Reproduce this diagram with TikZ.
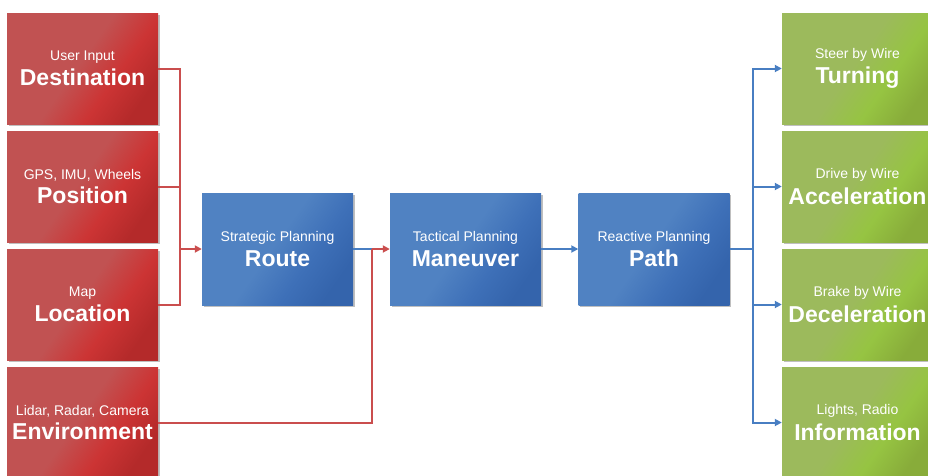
\documentclass[tikz,border=0pt]{standalone}
\usepackage{fontspec}
\setmainfont{Liberation Sans}
\usetikzlibrary{arrows.meta,shadows}
\definecolor{redA}{RGB}{193,82,82}
\definecolor{redB}{RGB}{204,52,52}
\definecolor{redC}{RGB}{180,42,42}
\definecolor{blueA}{RGB}{80,130,194}
\definecolor{blueB}{RGB}{62,112,184}
\definecolor{blueC}{RGB}{52,100,172}
\definecolor{greenA}{RGB}{156,186,92}
\definecolor{greenB}{RGB}{150,196,66}
\definecolor{greenC}{RGB}{136,172,58}
\definecolor{redln}{RGB}{202,78,78}
\definecolor{blueln}{RGB}{72,126,194}
\pgfdeclarehorizontalshading{redsh}{100bp}{color(0bp)=(redA); color(25bp)=(redA); color(48bp)=(redA); color(62bp)=(redB); color(75bp)=(redC); color(100bp)=(redC)}
\pgfdeclarehorizontalshading{bluesh}{100bp}{color(0bp)=(blueA); color(25bp)=(blueA); color(48bp)=(blueA); color(62bp)=(blueB); color(75bp)=(blueC); color(100bp)=(blueC)}
\pgfdeclarehorizontalshading{greensh}{100bp}{color(0bp)=(greenA); color(25bp)=(greenA); color(48bp)=(greenA); color(62bp)=(greenB); color(75bp)=(greenC); color(100bp)=(greenC)}
\newcommand{\sm}{\fontsize{14}{16}\selectfont}
\newcommand{\bg}{\fontsize{23}{26.5}\selectfont\bfseries}
\tikzset{
  boxbase/.style={rectangle, minimum width=151pt, minimum height=111pt, inner sep=0pt,
    text=white, align=center,
    drop shadow={shadow xshift=1.5pt, shadow yshift=-2pt, fill=black, opacity=0.25}},
  redbox/.style={boxbase, shading=redsh, shading angle=-35},
  bluebox/.style={boxbase, minimum height=112pt, shading=bluesh, shading angle=-35},
  greenbox/.style={boxbase, shading=greensh, shading angle=-35},
  redline/.style={draw=redln, line width=2pt},
  blueline/.style={draw=blueln, line width=2pt},
  tip/.style={-{Triangle[width=7pt,length=7pt]}},
}
\begin{document}
\begin{tikzpicture}[x=1pt,y=-1pt]
\useasboundingbox (0,0) rectangle (928,475);
% left red boxes
\node[redbox] (dest) at (82.5,68.5) {\sm User Input\\[5pt]\bg Destination};
\node[redbox] (pos) at (82.5,186.5) {\sm GPS, IMU, Wheels\\[5pt]\bg Position};
\node[redbox] (loc) at (82.5,304.5) {\sm Map\\[5pt]\bg Location};
\node[redbox] (env) at (82.5,422.5) {\sm Lidar, Radar, Camera\\[5pt]\bg Environment};
% blue boxes
\node[bluebox] (route) at (277.5,249) {\sm Strategic Planning\\[5pt]\bg Route};
\node[bluebox] (man) at (465.5,249) {\sm Tactical Planning\\[5pt]\bg Maneuver};
\node[bluebox] (path) at (654,249) {\sm Reactive Planning\\[5pt]\bg Path};
% right green boxes
\node[greenbox] (turn) at (857.5,68.5) {\sm Steer by Wire\\[5pt]\bg Turning};
\node[greenbox] (acc) at (857.5,186.5) {\sm Drive by Wire\\[5pt]\bg Acceleration};
\node[greenbox] (dec) at (857.5,304.5) {\sm Brake by Wire\\[5pt]\bg Deceleration};
\node[greenbox] (info) at (857.5,422.5) {\sm Lights, Radio\\[5pt]\bg Information};
% junctions
\coordinate (jL) at (180,249);
\coordinate (jM) at (372,249);
\coordinate (jR) at (753,249);
% red connectors
\draw[redline] (dest.east) -| (jL);
\draw[redline] (pos.east) -| (jL);
\draw[redline] (loc.east) -| (jL);
\draw[redline,tip] (jL) -- (route.west);
\draw[blueline] (route.east) -- (jM);
\draw[redline] (env.east) -| (jM);
\draw[redline,tip] (jM) -- (man.west);
% blue connectors
\draw[blueline,tip] (man.east) -- (path.west);
\draw[blueline] (path.east) -- (jR);
\draw[blueline,tip] (jR) |- (turn.west);
\draw[blueline,tip] (jR) |- (acc.west);
\draw[blueline,tip] (jR) |- (dec.west);
\draw[blueline,tip] (jR) |- (info.west);
\end{tikzpicture}
\end{document}
